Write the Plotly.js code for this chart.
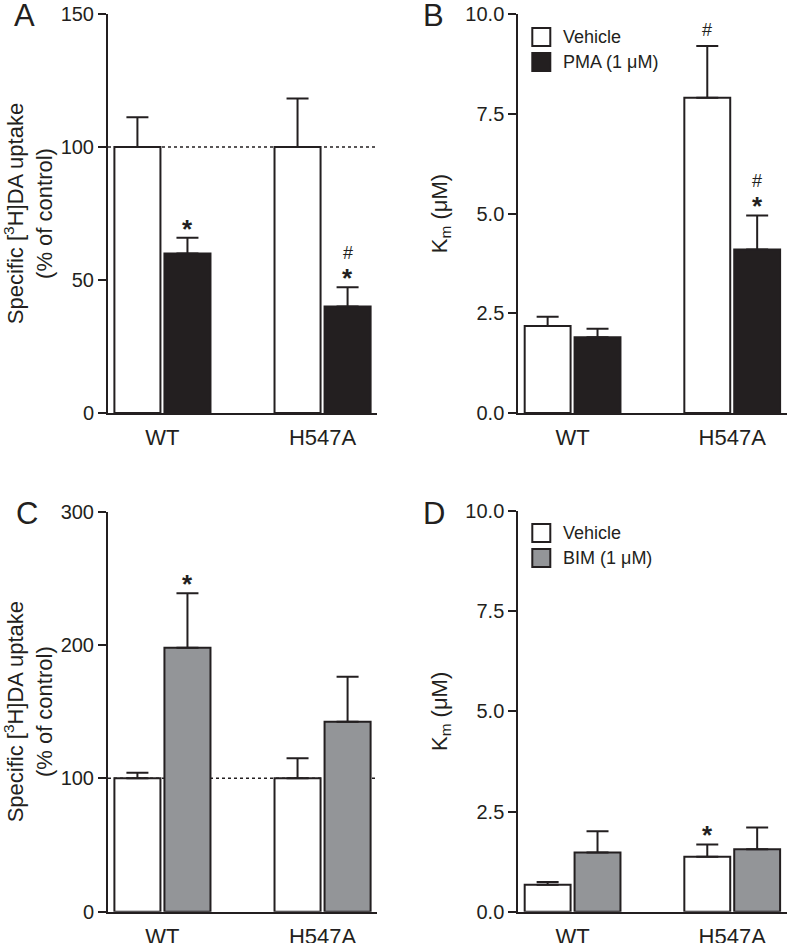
<!DOCTYPE html>
<html>
<head>
<meta charset="utf-8">
<script src="https://cdn.plot.ly/plotly-3.0.1.min.js"></script>
<style>html,body{margin:0;padding:0;background:#fff;}#chart{width:787px;height:943px;}</style>
</head>
<body>
<div id="chart"></div>
<script>
// ---------- DATA ----------
const categories = ['WT', 'H547A'];

// Panel A: specific uptake (% of control), Vehicle vs PMA
const aVehicle = [100, 100];
const aVehicleErr = [11.2, 18.2];
const aPMA = [60, 40];
const aPMAErr = [5.9, 7.3];
const aVehicleSig = ['', ''];
const aPMASig = ['*', '#*'];

// Panel B: Km (uM), Vehicle vs PMA
const bVehicle = [2.18, 7.9];
const bVehicleErr = [0.23, 1.3];
const bPMA = [1.9, 4.1];
const bPMAErr = [0.21, 0.85];
const bVehicleSig = ['', '#'];
const bPMASig = ['', '#*'];

// Panel C: specific uptake (% of control), Vehicle vs BIM
const cVehicle = [100, 100];
const cVehicleErr = [4.2, 15];
const cBIM = [198, 142.5];
const cBIMErr = [40.8, 33.8];
const cVehicleSig = ['', ''];
const cBIMSig = ['*', ''];

// Panel D: Km (uM), Vehicle vs BIM
const dVehicle = [0.67, 1.37];
const dVehicleErr = [0.07, 0.31];
const dBIM = [1.48, 1.56];
const dBIMErr = [0.53, 0.54];
const dVehicleSig = ['', '*'];
const dBIMSig = ['', ''];

const uptakeTicks = { A: [0, 50, 100, 150], C: [0, 100, 200, 300] };
const kmTicks = [0, 2.5, 5, 7.5, 10];
const legendPMA = ['Vehicle', 'PMA (1 μM)'];
const legendBIM = ['Vehicle', 'BIM (1 μM)'];
const panelLetters = ['A', 'B', 'C', 'D'];

// ---------- STYLE ----------
const W = 787, H = 943;
const INK = '#231f20';
const GRAY = '#939598';
const FONT = 'Liberation Sans, Arial, Helvetica, sans-serif';
const BARGAP = 0.375, GROUPGAP = 0.08;
const XRANGE = [-0.34, 1.34];

// pixel geometry of the four plot areas
const boxes = {
  A: { x0: 108, x1: 377, y0: 14, y1: 413 },
  B: { x0: 518.3, x1: 786.5, y0: 14, y1: 413 },
  C: { x0: 108, x1: 377, y0: 511.7, y1: 911.7 },
  D: { x0: 518.3, x1: 786.5, y0: 511, y1: 911.7 }
};
function xdom(b) { return [b.x0 / W, b.x1 / W]; }
function ydom(b) { return [1 - b.y1 / H, 1 - b.y0 / H]; }

const errStyle = { type: 'data', symmetric: false, thickness: 2, width: 11, color: INK };
function zeros(a) { return a.map(() => 0); }

function barTrace(name, y, err, fill, ax) {
  return {
    type: 'bar', name: name, x: categories, y: y,
    xaxis: 'x' + ax, yaxis: 'y' + ax,
    marker: { color: fill, line: { color: INK, width: 2 } },
    error_y: Object.assign({ array: err, arrayminus: zeros(err) }, errStyle),
    showlegend: false, hoverinfo: 'x+y'
  };
}

const data = [
  barTrace('Vehicle', aVehicle, aVehicleErr, '#ffffff', ''),
  barTrace('PMA (1 μM)', aPMA, aPMAErr, INK, ''),
  barTrace('Vehicle', bVehicle, bVehicleErr, '#ffffff', '2'),
  barTrace('PMA (1 μM)', bPMA, bPMAErr, INK, '2'),
  barTrace('Vehicle', cVehicle, cVehicleErr, '#ffffff', '3'),
  barTrace('BIM (1 μM)', cBIM, cBIMErr, GRAY, '3'),
  barTrace('Vehicle', dVehicle, dVehicleErr, '#ffffff', '4'),
  barTrace('BIM (1 μM)', dBIM, dBIMErr, GRAY, '4')
];

function xAxis(b, yname) {
  return {
    domain: xdom(b), anchor: yname, type: 'category', range: XRANGE,
    showline: true, linewidth: 2, linecolor: INK, ticks: '', showgrid: false,
    zeroline: false, automargin: false, ticklabelstandoff: 4,
    tickfont: { family: FONT, size: 22, color: INK }, fixedrange: true
  };
}
function yAxis(b, xname, range, ticks, fmt, title, standoff) {
  return {
    domain: ydom(b), anchor: xname, range: range, tickmode: 'array',
    tickvals: ticks, ticktext: ticks.map(v => fmt ? v.toFixed(1) : String(v)),
    showline: true, linewidth: 2, linecolor: INK, ticks: 'outside', ticklen: 8,
    tickwidth: 2, tickcolor: INK, showgrid: false, zeroline: false, automargin: false,
    tickfont: { family: FONT, size: 20, color: INK },
    title: { text: title, font: { family: FONT, size: 22, color: INK }, standoff: standoff },
    fixedrange: true
  };
}

const uptakeTitle = 'Specific [<sup>3</sup>H]DA uptake<br>(% of control)';
const kmTitle = 'K<sub>m</sub> (μM)';

const shapes = [];
const annotations = [];

// dotted 100 % reference lines in A and C
[['', 100], ['3', 100]].forEach(([ax, v]) => {
  shapes.push({ type: 'line', xref: 'x' + ax + ' domain', yref: 'y' + ax, x0: 0, x1: 1, y0: v, y1: v,
    layer: 'below', line: { color: INK, width: 1.5, dash: 'dot' } });
});

// significance marks
function barOffsetPx(b) {
  const ppu = (b.x1 - b.x0) / (XRANGE[1] - XRANGE[0]);
  return ppu * (1 - BARGAP) / 4;
}
function addSig(ax, b, vals, errs, sigs, side) {
  const off = barOffsetPx(b) * side;
  sigs.forEach((s, i) => {
    if (!s) return;
    const top = vals[i] + errs[i];
    const hasStar = s.indexOf('*') >= 0;
    if (hasStar) {
      annotations.push({ xref: 'x' + ax, yref: 'y' + ax, x: categories[i], y: top, xshift: off,
        yshift: -8, yanchor: 'bottom', showarrow: false, text: '<b>*</b>',
        font: { family: FONT, size: 26, color: INK } });
    }
    if (s.indexOf('#') >= 0) {
      annotations.push({ xref: 'x' + ax, yref: 'y' + ax, x: categories[i], y: top, xshift: off,
        yshift: hasStar ? 22 : 4, yanchor: 'bottom', showarrow: false, text: '#',
        font: { family: FONT, size: 18, color: INK } });
    }
  });
}
addSig('', boxes.A, aVehicle, aVehicleErr, aVehicleSig, -1);
addSig('', boxes.A, aPMA, aPMAErr, aPMASig, 1);
addSig('2', boxes.B, bVehicle, bVehicleErr, bVehicleSig, -1);
addSig('2', boxes.B, bPMA, bPMAErr, bPMASig, 1);
addSig('3', boxes.C, cVehicle, cVehicleErr, cVehicleSig, -1);
addSig('3', boxes.C, cBIM, cBIMErr, cBIMSig, 1);
addSig('4', boxes.D, dVehicle, dVehicleErr, dVehicleSig, -1);
addSig('4', boxes.D, dBIM, dBIMErr, dBIMSig, 1);

// legends (B and D), drawn in axis-domain coordinates
function addLegend(ax, b, labels, fills, firstRowPx) {
  const w = b.x1 - b.x0, h = b.y1 - b.y0;
  labels.forEach((lab, k) => {
    const cy = firstRowPx + k * 25;          // px from top of plot area
    const yc = 1 - cy / h;
    const sq = 18;
    shapes.push({ type: 'rect', xref: 'x' + ax + ' domain', yref: 'y' + ax + ' domain',
      x0: 14 / w, x1: (14 + sq) / w, y0: yc - (sq / 2) / h, y1: yc + (sq / 2) / h,
      fillcolor: fills[k], line: { color: INK, width: 2 } });
    annotations.push({ xref: 'x' + ax + ' domain', yref: 'y' + ax + ' domain',
      x: 43 / w, y: yc, xanchor: 'left', yanchor: 'middle', showarrow: false, text: lab,
      font: { family: FONT, size: 18, color: INK } });
  });
}
addLegend('2', boxes.B, legendPMA, ['#ffffff', INK], 23);
addLegend('4', boxes.D, legendBIM, ['#ffffff', GRAY], 22);

// panel letters
const letterPos = [[12, 0], [421, 0], [14, 498], [421, 498]];
panelLetters.forEach((L, i) => {
  annotations.push({ xref: 'paper', yref: 'paper', x: letterPos[i][0] / W, y: 1 - letterPos[i][1] / H,
    xanchor: 'left', yanchor: 'top', yshift: 4, showarrow: false, text: L,
    font: { family: FONT, size: 31, color: INK } });
});

const layout = {
  width: W, height: H,
  margin: { l: 0, r: 0, t: 0, b: 0, pad: 0 },
  paper_bgcolor: '#ffffff', plot_bgcolor: 'rgba(0,0,0,0)',
  barmode: 'group', bargap: BARGAP, bargroupgap: GROUPGAP,
  showlegend: false,
  font: { family: FONT, color: INK },
  xaxis: xAxis(boxes.A, 'y'),
  yaxis: yAxis(boxes.A, 'x', [0, 150], uptakeTicks.A, false, uptakeTitle, 14),
  xaxis2: xAxis(boxes.B, 'y2'),
  yaxis2: yAxis(boxes.B, 'x2', [0, 10], kmTicks, true, kmTitle, 12),
  xaxis3: xAxis(boxes.C, 'y3'),
  yaxis3: yAxis(boxes.C, 'x3', [0, 300], uptakeTicks.C, false, uptakeTitle, 14),
  xaxis4: xAxis(boxes.D, 'y4'),
  yaxis4: yAxis(boxes.D, 'x4', [0, 10], kmTicks, true, kmTitle, 12),
  shapes: shapes,
  annotations: annotations
};

Plotly.newPlot('chart', data, layout, { staticPlot: true, displayModeBar: false });
</script>
</body>
</html>
